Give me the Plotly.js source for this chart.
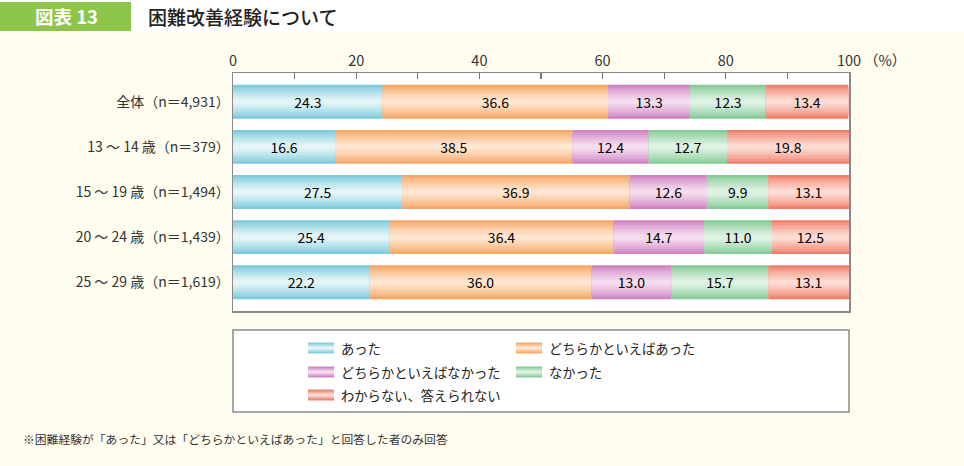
<!DOCTYPE html>
<html>
<head>
<meta charset="utf-8">
<script src="https://cdn.plot.ly/plotly-3.0.1.min.js"></script>
<style>html,body{margin:0;padding:0;background:#FFFDF0;}#chart{width:964px;height:466px;}</style>
</head>
<body>
<div id="chart"></div>
<script>
var categories = ["全体（n＝4,931）", "13 ～ 14 歳（n＝379）", "15 ～ 19 歳（n＝1,494）", "20 ～ 24 歳（n＝1,439）", "25 ～ 29 歳（n＝1,619）"];
var seriesNames = ["あった", "どちらかといえばあった", "どちらかといえばなかった", "なかった", "わからない、答えられない"];
var atta = [24.3, 16.6, 27.5, 25.4, 22.2];
var dochirakaAtta = [36.6, 38.5, 36.9, 36.4, 36.0];
var dochirakaNakatta = [13.3, 12.4, 12.6, 14.7, 13.0];
var nakatta = [12.3, 12.7, 9.9, 11.0, 15.7];
var wakaranai = [13.4, 19.8, 13.1, 12.5, 13.1];
var tickValues = [0, 10, 20, 30, 40, 50, 60, 70, 80, 90, 100];
var tickLabels = ["0", "", "20", "", "40", "", "60", "", "80", "", "100"];

var seriesValues = [atta, dochirakaAtta, dochirakaNakatta, nakatta, wakaranai];
var edgeColors = ["#7ccadb", "#f5a766", "#d083c3", "#85cb97", "#ef7f6b"];
var centerColors = ["#e4f5f8", "#fee6d0", "#f5dcef", "#def2e4", "#fddcd3"];

var FONT = "'Noto Sans CJK JP', 'Noto Sans', sans-serif";

function hexToRgb(h) {
  h = h.replace('#', '');
  return [parseInt(h.substr(0, 2), 16), parseInt(h.substr(2, 2), 16), parseInt(h.substr(4, 2), 16)];
}
function mix(a, b, t) {
  var A = hexToRgb(a), B = hexToRgb(b);
  var c = A.map(function (v, i) { return Math.round(v + (B[i] - v) * t); });
  return 'rgb(' + c.join(',') + ')';
}

var BAR_W = 0.75;
var LAYERS = 7;
var traces = [];
var bases = categories.map(function () { return 0; });

seriesValues.forEach(function (vals, s) {
  var base = bases.slice();
  for (var k = 0; k < LAYERS; k++) {
    var t = k / (LAYERS - 1);
    traces.push({
      type: 'bar', orientation: 'h',
      y: categories, x: vals, base: base,
      width: BAR_W * (1 - 0.85 * t),
      marker: { color: mix(edgeColors[s], centerColors[s], Math.pow(t, 0.8)), line: { width: 0 } },
      showlegend: false, hoverinfo: 'skip'
    });
  }
  traces.push({
    type: 'bar', orientation: 'h',
    y: categories, x: vals, base: base,
    width: BAR_W,
    marker: { color: 'rgba(0,0,0,0)', line: { width: 0 } },
    text: vals.map(function (v) { return v.toFixed(1); }),
    textposition: 'inside', insidetextanchor: 'middle', textangle: 0,
    constraintext: 'none',
    insidetextfont: { family: FONT, size: 14, color: '#000000' },
    name: seriesNames[s], showlegend: false,
    hovertemplate: '%{y}<br>' + seriesNames[s] + ': %{x}<extra></extra>'
  });
  bases = bases.map(function (b, i) { return b + vals[i]; });
});

// pixel -> paper helpers (plot area: x 233..849, y 73..311)
function px(x) { return (x - 233) / 616; }
function py(y) { return (311 - y) / 238; }

var shapes = [];
var annotations = [];

// white top band
shapes.push({ type: 'rect', xref: 'paper', yref: 'paper', x0: px(0), x1: px(964), y0: py(0), y1: py(32), fillcolor: '#ffffff', line: { width: 0 }, layer: 'below' });
// badge
shapes.push({ type: 'rect', xref: 'paper', yref: 'paper', x0: px(0), x1: px(131), y0: py(2), y1: py(31), fillcolor: '#8dc54a', line: { width: 0 }, layer: 'below' });
annotations.push({ xref: 'paper', yref: 'paper', x: px(66), y: py(16.5), text: '図表 13', showarrow: false, xanchor: 'center', yanchor: 'middle', font: { family: FONT, size: 18.5, color: '#ffffff', weight: 700 } });
annotations.push({ xref: 'paper', yref: 'paper', x: px(146), y: py(16.5), text: '困難改善経験について', showarrow: false, xanchor: 'left', yanchor: 'middle', font: { family: FONT, size: 19, color: '#222222', weight: 500 } });

// (%) unit
annotations.push({ xref: 'paper', yref: 'paper', x: px(862), y: py(59), text: '（%）', showarrow: false, xanchor: 'left', yanchor: 'middle', font: { family: FONT, size: 14.5, color: '#333333' } });

// legend box
shapes.push({ type: 'rect', xref: 'paper', yref: 'paper', x0: px(233), x1: px(849), y0: py(330), y1: py(412), fillcolor: '#ffffff', line: { color: '#8a8a8a', width: 1.5 }, layer: 'below' });
var legPos = [[308, 348], [516, 348], [308, 372], [516, 372], [308, 395]];
seriesNames.forEach(function (nm, s) {
  var lx = legPos[s][0], ly = legPos[s][1];
  var NL = 5;
  for (var k = 0; k < NL; k++) {
    var t = k / (NL - 1);
    var h = 5.5 * (1 - 0.8 * t);
    shapes.push({ type: 'rect', xref: 'paper', yref: 'paper', x0: px(lx), x1: px(lx + 26), y0: py(ly - h), y1: py(ly + h), fillcolor: mix(edgeColors[s], centerColors[s], t), line: { width: 0 }, layer: 'above' });
  }
  annotations.push({ xref: 'paper', yref: 'paper', x: px(lx + 31), y: py(ly), text: nm, showarrow: false, xanchor: 'left', yanchor: 'middle', font: { family: FONT, size: 13.3, color: '#222222' } });
});

// footnote
annotations.push({ xref: 'paper', yref: 'paper', x: px(21), y: py(438), text: '※困難経験が「あった」又は「どちらかといえばあった」と回答した者のみ回答', showarrow: false, xanchor: 'left', yanchor: 'middle', font: { family: FONT, size: 11.8, color: '#333333' } });

var layout = {
  width: 964, height: 466,
  margin: { l: 233, r: 115, t: 73, b: 155, pad: 0 },
  paper_bgcolor: '#FFFDF0',
  plot_bgcolor: '#ffffff',
  barmode: 'overlay',
  showlegend: false,
  font: { family: FONT, color: '#333333' },
  xaxis: {
    side: 'top', range: [0, 100], tickmode: 'array', tickvals: tickValues, ticktext: tickLabels,
    ticks: 'inside', ticklen: 6, tickwidth: 1.2, tickcolor: '#777777',
    showline: true, mirror: true, linecolor: '#8a8a8a', linewidth: 1.5,
    showgrid: false, zeroline: false, fixedrange: true,
    tickfont: { family: FONT, size: 14.5, color: '#333333' }
  },
  yaxis: {
    type: 'category', categoryorder: 'array', categoryarray: categories,
    range: [4.637, -0.637],
    showline: true, mirror: true, linecolor: '#8a8a8a', linewidth: 1.5,
    showgrid: false, zeroline: false, ticks: '', fixedrange: true,
    ticklabelstandoff: -1,
    tickfont: { family: FONT, size: 14, color: '#333333' }
  },
  shapes: shapes,
  annotations: annotations
};

Plotly.newPlot('chart', traces, layout, { displayModeBar: false, staticPlot: true });
</script>
</body>
</html>
